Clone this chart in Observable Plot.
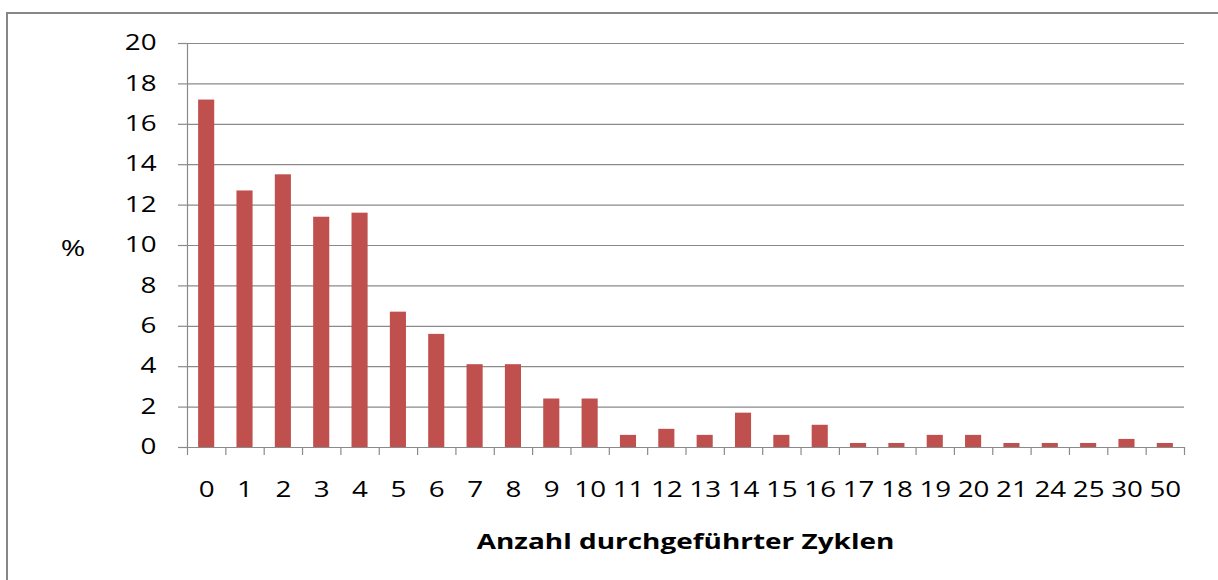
<!DOCTYPE html>
<html>
<head>
<meta charset="utf-8">
<script src="https://cdn.jsdelivr.net/npm/d3@7"></script>
<script src="https://cdn.jsdelivr.net/npm/@observablehq/plot@0.6"></script>
<style>
  html, body { margin: 0; padding: 0; background: #fff; }
  #wrap { position: relative; width: 1218px; height: 580px; overflow: hidden; font-family: "Open Sans", sans-serif; }
  #frame { position: absolute; left: 6px; top: 12px; width: 1300px; height: 700px; border-left: 2px solid #878787; border-top: 2px solid #878787; }
  #ylab { position: absolute; left: 53px; width: 40px; text-align: center; top: 232px; font-size: 22px; color: #000; transform: scaleX(1.35); }
  #xlab { position: absolute; left: 187px; width: 997px; top: 525px; text-align: center; font-size: 22px; font-weight: bold; color: #000; transform: scaleX(1.27); transform-origin: 50% 50%; }
  #chart { position: absolute; left: 0; top: 0; }
  #chart svg text { font-size: 21px; fill: #000; }
</style>
</head>
<body>
<div id="wrap">
  <div id="frame"></div>
  <div id="chart"></div>
  <div id="ylab">%</div>
  <div id="xlab">Anzahl durchgeführter Zyklen</div>
</div>
<script>
const categories = ["0","1","2","3","4","5","6","7","8","9","10","11","12","13","14","15","16","17","18","19","20","21","24","25","30","50"];
const values = [17.2,12.7,13.5,11.4,11.6,6.7,5.6,4.1,4.1,2.4,2.4,0.6,0.9,0.6,1.7,0.6,1.1,0.2,0.2,0.6,0.6,0.2,0.2,0.2,0.4,0.2];
const yTicks = [0,2,4,6,8,10,12,14,16,18,20];

const data = categories.map((c, i) => ({cat: c, idx: i, value: values[i]}));
const boundaries = d3.range(categories.length + 1);
const centers = categories.map((c, i) => i + 0.5);
const gridCol = "#8a8a8a";

const chart = Plot.plot({
  width: 1218,
  height: 580,
  marginLeft: 187,
  marginRight: 34,
  marginTop: 43,
  marginBottom: 133,
  style: {fontFamily: "'Open Sans', sans-serif", fontSize: "21px", color: "#000", background: "transparent"},
  x: {type: "linear", domain: [0, categories.length]},
  y: {domain: [0, 20]},
  marks: [
    Plot.gridY(yTicks.filter(t => t > 0), {stroke: gridCol, strokeOpacity: 1, strokeWidth: 1.2}),
    Plot.rectY(data, {x1: d => d.idx + 0.29, x2: d => d.idx + 0.71, y1: 0, y2: "value", fill: "#C0504D"}),
    Plot.ruleY([0], {stroke: gridCol, strokeWidth: 1.2}),
    Plot.ruleX([0], {y1: 0, y2: 20, stroke: gridCol, strokeWidth: 1.2}),
    Plot.axisY({ticks: yTicks, tickSize: 9, tickPadding: 22, label: null, stroke: gridCol, strokeWidth: 1.2}),
    Plot.axisX({ticks: boundaries, tickSize: 8, tickFormat: () => "", label: null, stroke: gridCol, strokeWidth: 1.2}),
    Plot.axisX({ticks: centers, tickSize: 0, tickPadding: 35, tickFormat: v => categories[Math.round(v - 0.5)], label: null})
  ]
});
document.getElementById("chart").appendChild(chart);
// widen the glyphs horizontally, as in the reference
chart.querySelectorAll("text").forEach(t => {
  const len = t.getComputedTextLength();
  if (len > 0) {
    t.setAttribute("textLength", (len * 1.32).toFixed(1));
    t.setAttribute("lengthAdjust", "spacingAndGlyphs");
  }
});
</script>
</body>
</html>
